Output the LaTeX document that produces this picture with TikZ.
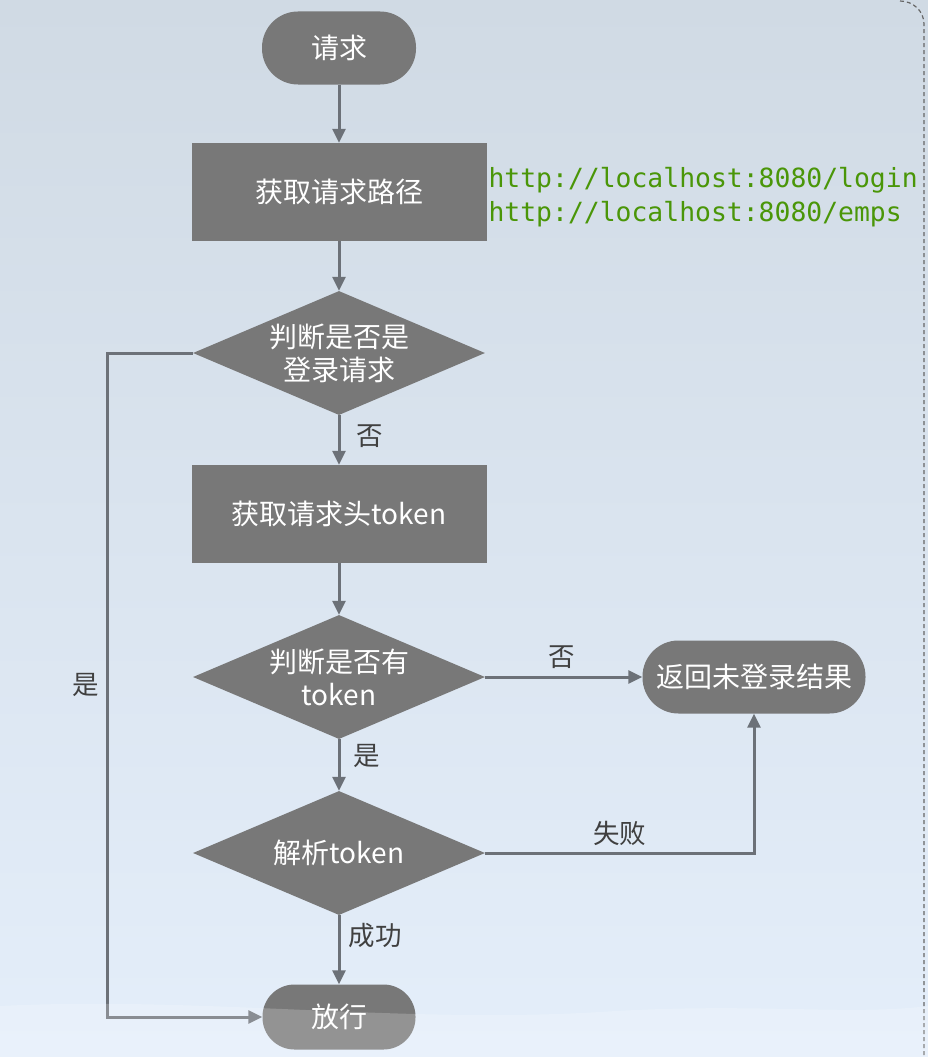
\documentclass[tikz,border=0pt]{standalone}
\usepackage{fontspec}
\newfontfamily\cjk{Noto Sans CJK SC}
\newfontfamily\monof{DejaVu Sans Mono}
\usetikzlibrary{shapes.geometric,arrows.meta}
\definecolor{nodegray}{RGB}{120,120,120}
\definecolor{linegray}{RGB}{108,113,120}
\definecolor{labelgray}{RGB}{64,64,64}
\definecolor{urlgreen}{RGB}{74,150,8}
\definecolor{bgtop}{RGB}{208,218,228}
\definecolor{bgbot}{RGB}{228,238,250}
\begin{document}
\begin{tikzpicture}[x=1pt,y=-1pt,
  pill/.style={rectangle, rounded corners=36pt, fill=nodegray, text=white, font=\cjk\fontsize{28}{33}\selectfont, minimum height=73pt, inner sep=0pt},
  box/.style={rectangle, fill=nodegray, text=white, font=\cjk\fontsize{28}{33}\selectfont, minimum width=295pt, minimum height=98pt, inner sep=0pt},
  dia/.style={diamond, fill=nodegray, minimum width=292pt, minimum height=124pt, inner sep=0pt},
  dtext/.style={text=white, font=\cjk\fontsize{28}{33}\selectfont, align=center, inner sep=0pt},
  flow/.style={draw=linegray, line width=3pt, -{Triangle[length=14pt,width=13pt]}},
  lbl/.style={text=labelgray, font=\cjk\fontsize{26.5}{30}\selectfont}
]
\useasboundingbox (0,0) rectangle (928,1057);
\fill[top color=bgtop, bottom color=bgbot] (0,0) rectangle (928,1057);
\draw[dash pattern=on 4pt off 3pt, line width=1.2pt, black!60] (900,1) to[out=0,in=90] (924,24) -- (924,1057);

\node[pill, minimum width=154pt] (start) at (339,48) {请求};
\node[box] (path) at (339,192) {获取请求路径};
\node[anchor=west, align=left, text=urlgreen, font=\monof\fontsize{26.4}{34}\selectfont] (url) at (485,197) {http://localhost:8080/login\\http://localhost:8080/emps};
\node[dia] (d1) at (339,353) {};
\node[dtext] (t1) at (d1) {判断是否是\\登录请求};
\node[box] (hdr) at (339,514) {获取请求头token};
\node[dia] (d2) at (339,677) {};
\node[dtext] (t2) at (d2) {判断是否有\\token};
\node[pill, minimum width=223pt] (ret) at (754,677) {返回未登录结果};
\node[dia] (d3) at (339,853) {};
\node[dtext] (t3) at (d3) {解析token};
\node[pill, minimum width=153pt, minimum height=65pt, rounded corners=32pt] (pass) at (339,1017) {放行};

\draw[flow] (start) -- (path);
\draw[flow] (path) -- (d1);
\draw[flow] (d1) -- node[lbl, right, xshift=13pt, pos=0.42] (l1) {否} (hdr);
\draw[flow] (hdr) -- (d2);
\draw[flow] (d2) -- node[lbl, right, xshift=10pt, pos=0.32] (l2) {是} (d3);
\draw[flow] (d3) -- node[lbl, right, xshift=5pt, pos=0.3] (l3) {成功} (pass);
\draw[flow] (d2) -- node[lbl, above, yshift=4pt, xshift=-2pt] (l4) {否} (ret);
\draw[flow] (d3.east) -| node[lbl, above, yshift=3pt, pos=0.25] (l5) {失败} (ret.south);
\draw[flow] (d1.west) -- ++(-85,0) |- node[lbl, left, xshift=-4pt, pos=0.25] (l6) {是} (pass.west);

\fill[white, opacity=0.2] (0,1006) .. controls (200,996) and (400,1024) .. (600,1012) .. controls (750,1002) and (850,1016) .. (928,1006) -- (928,1057) -- (0,1057) -- cycle;
\end{tikzpicture}
\end{document}
